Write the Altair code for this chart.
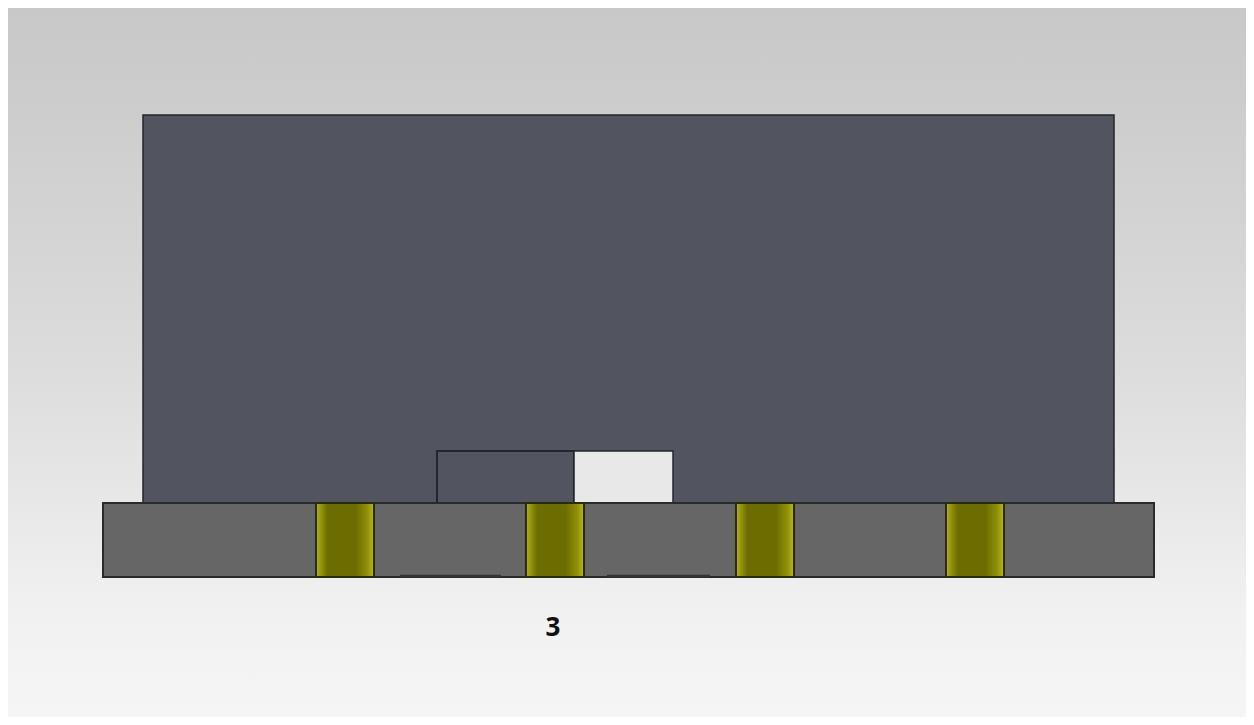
import altair as alt
import pandas as pd

# Drawing extents, measured in the picture's own units
back_x = [0, 1254]
back_y = [0, 725]
wall_x = [143, 1114]
wall_y = [115, 503]
base_x = [103, 1154]
base_y = [503, 577]
slot_x = [437, 574]
gap_x = [574, 673]
slot_y = [451, 503]
post_left = [316, 526, 736, 946]
post_right = [374, 584, 794, 1004]
edge_left = [400, 607]
edge_right = [501, 710]
edge_y = [576, 576]
label = ["3"]
label_x = [553]
label_y = [628]

W, H = 1238, 709
X = alt.X("x:Q", axis=None, scale=alt.Scale(domain=[8, 1246], nice=False, zero=False, clamp=True))
Y = alt.Y("y:Q", axis=None, scale=alt.Scale(domain=[717, 8], nice=False, zero=False, clamp=True))


def box(x, y, fill, stroke=None, sw=1.5):
    df = pd.DataFrame({"x": [x[0]], "x2": [x[1]], "y": [y[0]], "y2": [y[1]]})
    kw = {"stroke": stroke, "strokeWidth": sw} if stroke else {"strokeWidth": 0}
    return alt.Chart(df).mark_rect(color=fill, **kw).encode(x=X, x2="x2:Q", y=Y, y2="y2:Q")


def vgrad(stops):
    return alt.Gradient(gradient="linear", x1=0, y1=0, x2=0, y2=1,
                        stops=[alt.GradientStop(offset=o, color=c) for o, c in stops])


def hgrad(stops):
    return alt.Gradient(gradient="linear", x1=0, y1=0, x2=1, y2=0,
                        stops=[alt.GradientStop(offset=o, color=c) for o, c in stops])


gold = hgrad([(0, "#b4b41c"), (0.05, "#a0a010"), (0.2, "#6c6c00"), (0.68, "#6c6c00"),
              (0.88, "#8f8f08"), (0.97, "#b0b018"), (1, "#b4b41c")])
back = vgrad([(0, "#c8c8c8"), (0.15, "#cdcdcd"), (0.5, "#dcdcdc"), (0.72, "#e9e9e9"),
              (0.85, "#f1f1f1"), (1, "#f5f5f5")])

layers = [
    box(back_x, back_y, back),
    box(wall_x, wall_y, "#525460", "#24262c"),
    box(slot_x, slot_y, "#525460", "#24262c", 2),
    box(gap_x, slot_y, "#e8e8e8", "#24262c"),
    box(base_x, base_y, "#666666", "#2a2a2a", 2),
]
for a, b in zip(post_left, post_right):
    layers.append(box([a, b], base_y, gold, "#2a2a10", 2))

edges = pd.DataFrame({"x": edge_left, "x2": edge_right, "y": edge_y})
layers.append(alt.Chart(edges).mark_rule(color="#33343a", strokeWidth=2.5).encode(x=X, x2="x2:Q", y=Y))

text = pd.DataFrame({"x": label_x, "y": label_y, "t": label})
layers.append(alt.Chart(text).mark_text(font="Open Sans", fontWeight="bold", fontSize=26,
                                        color="#111111", baseline="middle", align="center")
              .encode(x=X, y=Y, text="t:N"))

chart = alt.layer(*layers).properties(
    width=W, height=H, padding=0, autosize=alt.AutoSizeParams(type="none"),
    background="white",
).configure_view(stroke=None)

chart.save("out.html", embed_options={"renderer": "svg", "actions": False})
